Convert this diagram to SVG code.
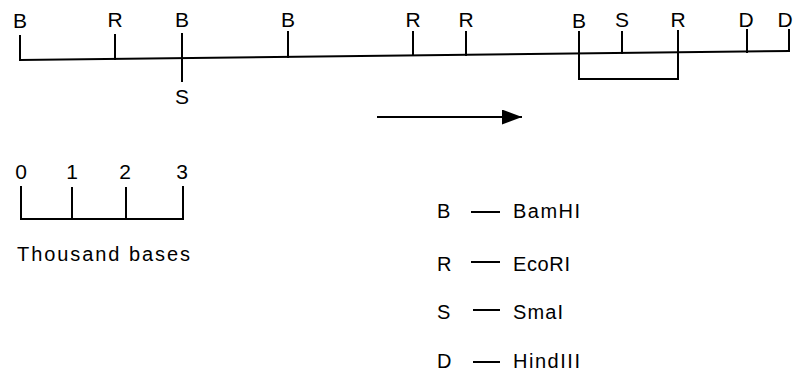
<svg xmlns="http://www.w3.org/2000/svg" width="793" height="376" viewBox="0 0 793 376">
<style>
.ln{stroke:#000;stroke-width:2;fill:none;stroke-linecap:square}
.lb{font-family:"Liberation Sans",Arial,sans-serif;font-size:21px;fill:#000;text-anchor:middle}
.tx{font-family:"Liberation Sans",Arial,sans-serif;font-size:20px;fill:#000}
</style>
<defs>
<marker id="ah" markerWidth="20" markerHeight="15" refX="20" refY="7.5" orient="auto" markerUnits="userSpaceOnUse">
<path d="M0,0 L20,7.5 L0,15 Z" fill="#000"/>
</marker>
</defs>
<rect width="793" height="376" fill="#fff"/>
<g id="connectors">
<line id="map-line" class="ln" x1="20" y1="60" x2="789" y2="51"/>
<polyline id="bracket" class="ln" points="579,53 579,79 678,79 678,52"/>
<line id="direction-arrow" x1="377" y1="117" x2="522" y2="117" stroke="#000" stroke-width="2" marker-end="url(#ah)"/>
</g>
<g id="site-B1"><line class="ln" x1="20" y1="36" x2="20" y2="60"/><text class="lb" x="20" y="28">B</text></g>
<g id="site-R1"><line class="ln" x1="115" y1="35" x2="115" y2="59"/><text class="lb" x="115" y="27">R</text></g>
<g id="site-B2"><line class="ln" x1="182" y1="34" x2="182" y2="81"/><text class="lb" x="182" y="27">B</text><text class="lb" x="182" y="104">S</text></g>
<g id="site-B3"><line class="ln" x1="288" y1="32" x2="288" y2="57"/><text class="lb" x="288" y="27">B</text></g>
<g id="site-R2"><line class="ln" x1="413" y1="32" x2="413" y2="55"/><text class="lb" x="413" y="27">R</text></g>
<g id="site-R3"><line class="ln" x1="466" y1="32" x2="466" y2="55"/><text class="lb" x="466" y="27">R</text></g>
<g id="site-B4"><line class="ln" x1="579" y1="32" x2="579" y2="53"/><text class="lb" x="579" y="28">B</text></g>
<g id="site-S"><line class="ln" x1="622" y1="32" x2="622" y2="53"/><text class="lb" x="622" y="27">S</text></g>
<g id="site-R4"><line class="ln" x1="678" y1="31" x2="678" y2="52"/><text class="lb" x="678" y="27">R</text></g>
<g id="site-D1"><line class="ln" x1="747" y1="30" x2="747" y2="52"/><text class="lb" x="746" y="27">D</text></g>
<g id="site-D2"><line class="ln" x1="789" y1="30" x2="789" y2="51"/><text class="lb" x="785" y="27">D</text></g>
<g id="scale">
<polyline class="ln" points="21,187 21,219 183,219 183,187"/>
<line class="ln" x1="72" y1="188" x2="72" y2="219"/>
<line class="ln" x1="126" y1="188" x2="126" y2="219"/>
<text class="lb" x="21" y="179">0</text>
<text class="lb" x="72" y="179">1</text>
<text class="lb" x="125" y="179">2</text>
<text class="lb" x="182" y="179">3</text>
<text class="tx" x="17" y="261" textLength="173" lengthAdjust="spacing">Thousand  bases</text>
</g>
<g id="legend">
<text class="tx" x="437" y="218">B</text><line class="ln" x1="472" y1="212" x2="499" y2="212"/><text class="tx" x="513" y="218" textLength="67" lengthAdjust="spacing">BamHI</text>
<text class="tx" x="437" y="271">R</text><line class="ln" x1="472" y1="262" x2="499" y2="262"/><text class="tx" x="513" y="271" textLength="57" lengthAdjust="spacing">EcoRI</text>
<text class="tx" x="437" y="319">S</text><line class="ln" x1="474" y1="310" x2="499" y2="310"/><text class="tx" x="513" y="319" textLength="50" lengthAdjust="spacing">SmaI</text>
<text class="tx" x="437" y="368">D</text><line class="ln" x1="474" y1="362" x2="499" y2="362"/><text class="tx" x="513" y="368" textLength="67" lengthAdjust="spacing">HindIII</text>
</g>
</svg>
